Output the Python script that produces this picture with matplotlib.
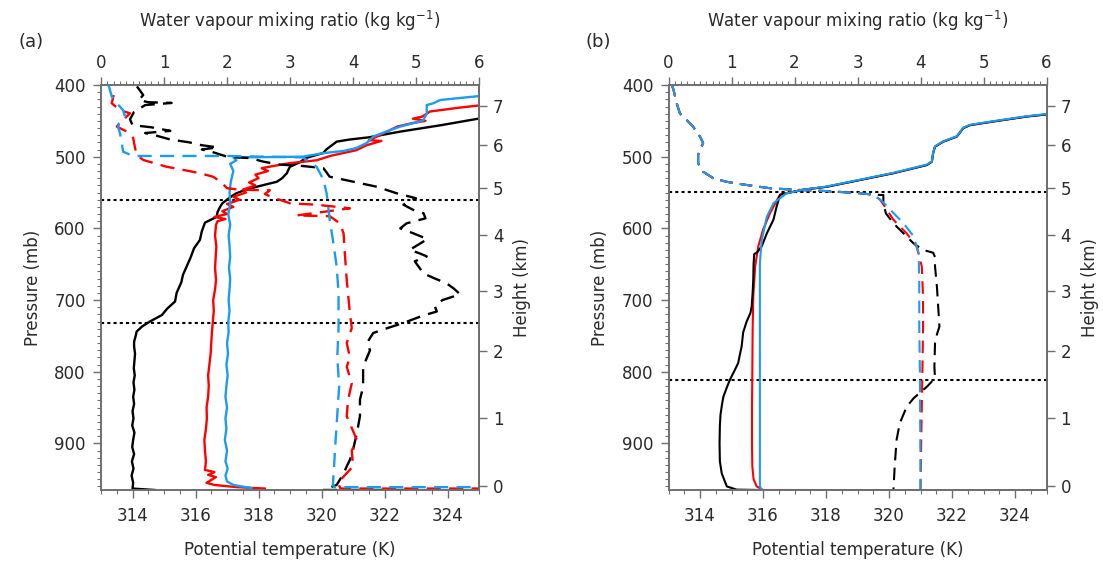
import numpy as np
import matplotlib
matplotlib.use('Agg')
import matplotlib.pyplot as plt
from matplotlib.ticker import MultipleLocator

plt.rcParams['font.family'] = ['DejaVu Sans']
plt.rcParams['mathtext.default'] = 'regular'
plt.rcParams['font.size'] = 12

# height (km) <-> pressure (mb)
Z_TICK = [-1, 0, 1, 2, 3, 4, 5, 6, 7, 9]
P_TICK = [1063, 959, 865, 771, 687, 609, 544, 483, 429, 343]

# boundary layer top markers (mb)
HLINES_A = [560, 732]
HLINES_B = [549, 811]

# ---------------- panel (a): observations ----------------
# potential temperature (K) vs pressure (mb)
P_A_BLACK = [965, 963, 955, 945, 935, 925, 915, 905, 895, 885, 875, 865, 855, 845, 835, 825,
             815, 805, 795, 785, 775, 765, 758, 750, 744, 737, 730, 721, 712, 702, 690, 675,
             665, 653, 640, 628, 616, 604, 592, 584, 577, 570, 565, 560, 555, 551, 546, 542,
             538, 535, 530, 523, 518, 514, 508, 502, 498, 495, 490, 486, 479, 476, 473, 465,
             456, 446]
TH_A_BLACK = [314.7, 314.0, 314.02, 313.97, 314.03, 313.98, 314.05, 313.99, 314.02, 314.06,
              313.99, 314.03, 314.0, 314.05, 314.02, 314.06, 314.03, 314.07, 314.04, 314.06,
              314.08, 314.05, 314.05, 314.1, 314.13, 314.3, 314.55, 314.93, 315.1, 315.35,
              315.4, 315.55, 315.6, 315.72, 315.85, 315.95, 316.14, 316.2, 316.3, 316.67,
              316.7, 316.78, 316.85, 317.0, 317.15, 317.3, 317.6, 317.94, 318.3, 318.58,
              318.75, 318.9, 318.95, 319.0, 319.3, 319.5, 319.8, 320.05, 320.15, 320.27,
              320.48, 320.9, 321.5, 322.5, 323.8, 325.1]

P_A_RED = [963, 961, 958, 955, 947, 944, 940, 937, 925, 910, 895, 880, 865, 850, 835, 820,
           805, 790, 775, 760, 745, 730, 715, 700, 685, 672, 655, 640, 625, 610, 595, 590,
           587, 584, 580, 576, 570, 566, 560, 556, 550, 546, 540, 536, 530, 525, 520, 516,
           512, 509, 505, 499, 491, 484, 478, 477, 470, 458, 453, 450, 447, 444, 440, 437,
           432, 428]
TH_A_RED = [318.2, 317.3, 316.6, 316.35, 316.65, 316.4, 316.6, 316.3, 316.33, 316.3, 316.28,
            316.33, 316.36, 316.35, 316.4, 316.42, 316.4, 316.44, 316.48, 316.5, 316.52,
            316.55, 316.58, 316.56, 316.62, 316.65, 316.62, 316.64, 316.66, 316.62, 316.65,
            316.7, 316.95, 316.6, 317.0, 316.85, 317.2, 317.0, 317.4, 317.2, 317.6, 317.5,
            317.9, 317.7, 318.0, 317.9, 318.3, 318.1, 318.6, 319.0, 319.85, 320.27, 321.1,
            321.43, 321.9, 321.5, 321.86, 322.4, 322.9, 323.3, 322.9, 323.2, 323.34, 323.44,
            324.3, 325.1]

P_A_BLUE = [962.5, 958, 953, 945, 935, 925, 910, 895, 880, 865, 850, 835, 820, 805, 790, 775,
            760, 745, 730, 715, 700, 685, 670, 655, 640, 625, 610, 595, 580, 565, 550, 535,
            520, 510, 505, 501, 500, 495, 492, 488, 481, 472, 463, 458, 451, 449, 440, 428,
            425.5, 421, 418.5, 415]
TH_A_BLUE = [317.78, 317.2, 317.0, 316.95, 317.02, 316.95, 317.0, 316.93, 316.98, 316.95,
             317.0, 316.95, 316.98, 317.02, 316.98, 317.03, 317.0, 317.05, 317.04, 317.08,
             317.05, 317.08, 317.1, 317.06, 317.1, 317.08, 317.05, 317.1, 317.04, 317.1,
             317.08, 317.12, 317.2, 317.1, 317.3, 317.2, 319.4, 320.06, 320.7, 321.1, 321.43,
             321.64, 322.17, 322.5, 323.1, 323.23, 323.34, 323.34, 323.55, 323.76, 324.3,
             325.1]

# water vapour mixing ratio vs pressure (mb)
P_A_QBLACK = [402, 414, 421, 424, 425, 428, 438, 448, 456, 459, 464, 467, 470, 476, 480, 484,
              487, 490, 493, 500, 502, 507, 511, 513, 516, 528, 532, 542, 551, 558, 567, 574,
              579, 586, 593, 600, 607, 615, 630, 635, 639, 646, 663, 670, 677, 684, 692, 700,
              709, 716, 722, 732, 739, 746, 760, 770, 793, 821, 839, 862, 886, 909, 923, 932,
              942, 958, 965, 965]
Q_A_BLACK = [0.57, 0.67, 0.6, 0.75, 1.12, 0.7, 0.52, 0.46, 0.5, 0.8, 1.1, 0.7, 0.85, 1.1, 1.4,
             1.6, 1.85, 1.6, 1.75, 2.0, 2.37, 2.58, 2.84, 3.2, 3.53, 3.63, 3.85, 4.38, 4.69,
             5.0, 4.8, 4.95, 5.12, 5.15, 4.85, 4.75, 4.96, 5.18, 4.9, 5.06, 5.17, 4.98, 5.12,
             5.3, 5.49, 5.6, 5.7, 5.42, 5.3, 5.33, 5.1, 4.8, 4.55, 4.32, 4.22, 4.27, 4.16,
             4.16, 4.11, 4.11, 4.06, 4.0, 3.95, 3.9, 3.85, 3.74, 3.53, 4.9]

P_A_QRED = [414, 425.5, 435, 439.5, 453, 458, 465, 474, 488, 497.6, 504.6, 514, 518.5, 523,
            528, 535, 544, 546, 547, 552, 556, 565, 567, 572, 575, 582, 583, 593, 607, 635,
            672, 718, 739, 760, 780, 793, 816, 840, 862, 895, 910, 932, 955, 963, 963]
Q_A_RED = [0.2, 0.17, 0.3, 0.46, 0.3, 0.25, 0.41, 0.51, 0.54, 0.57, 0.67, 1.04, 1.31, 1.57,
           1.78, 1.9, 2.0, 2.2, 2.68, 2.6, 2.7, 3.0, 3.42, 3.95, 3.7, 3.1, 3.63, 3.79, 3.85,
           3.87, 3.9, 3.95, 3.98, 3.9, 3.95, 3.9, 3.98, 3.92, 3.9, 4.06, 3.98, 4.0, 3.76, 3.8,
           6.1]

P_A_QBLUE = [400, 416, 425.5, 435, 444, 453, 458, 467, 481, 493, 499, 499, 501, 505, 514, 532,
             551, 565, 588, 616, 653, 690, 739, 780, 820, 860, 900, 930, 958, 961, 961]
Q_A_BLUE = [0.12, 0.17, 0.25, 0.35, 0.38, 0.29, 0.27, 0.3, 0.33, 0.35, 0.51, 2.0, 3.2, 3.27,
            3.42, 3.53, 3.58, 3.6, 3.63, 3.68, 3.74, 3.77, 3.77, 3.75, 3.78, 3.75, 3.72, 3.7,
            3.68, 3.7, 6.1]

# ---------------- panel (b): model ----------------
P_B_UPPER = [553, 546, 542, 532.5, 523, 511.6, 507, 495, 486, 479, 472, 460, 456, 451, 444, 441]
TH_B_UPPER = [316.54, 317.28, 318.02, 319.08, 320.14, 321.2, 321.36, 321.4, 321.46, 321.72,
              322.15, 322.36, 322.57, 323.3, 324.37, 325.0]

P_B_BLACK = [965, 964.5, 960, 942, 925, 900, 875, 860, 845, 835, 822, 811, 798, 788, 775, 765,
             745, 730, 718, 709, 690, 672, 650, 636, 633, 625, 607, 588, 570] + P_B_UPPER
TH_B_BLACK = [315.9, 315.16, 314.85, 314.69, 314.63, 314.62, 314.63, 314.65, 314.7, 314.74,
              314.85, 314.95, 315.1, 315.21, 315.27, 315.32, 315.37, 315.48, 315.6, 315.64,
              315.67, 315.69, 315.7, 315.72, 315.82, 315.96, 316.12, 316.33, 316.43] + TH_B_UPPER

P_B_RED = [965.3, 965, 960, 950, 932, 900, 850, 800, 742, 695, 653, 625, 602, 579,
           560] + P_B_UPPER
TH_B_RED = [325.2, 316.0, 315.8, 315.7, 315.66, 315.65, 315.65, 315.66, 315.67, 315.69,
            315.75, 315.85, 316.0, 316.22, 316.45] + TH_B_UPPER

P_B_BLUE = [967, 964, 960, 900, 800, 700, 660, 648, 616, 584, 565, 551, 546, 541.5, 532,
            522.5, 511, 506.5, 494.5, 485.5, 478.5, 471.5, 459.5, 455.5, 450.5, 443.5, 440.5]
TH_B_BLUE = [315.69, 315.95, 315.9, 315.9, 315.9, 315.9, 315.9, 315.9, 315.96, 316.12, 316.33,
             316.75, 317.28, 318.02, 319.08, 320.14, 321.2, 321.36, 321.4, 321.46, 321.72,
             322.15, 322.36, 322.57, 323.3, 324.37, 325.0]

P_B_QUPPER = [399, 407, 425.5, 439.5, 449, 458, 472, 481, 490, 497.6, 509, 521, 530, 535,
              539.5, 544, 546, 548, 551, 553]
Q_B_UPPER = [0.05, 0.08, 0.13, 0.18, 0.29, 0.39, 0.5, 0.55, 0.5, 0.47, 0.47, 0.55, 0.71, 0.92,
             1.24, 1.61, 1.98, 2.51, 3.04, 3.25]

P_B_QBLACK = P_B_QUPPER + [553.5, 565, 579, 593, 607, 621, 630, 634, 640, 653, 681, 709, 737,
                           748, 760, 793, 809, 821, 837, 849, 872, 895, 932, 965]
Q_B_BLACK = Q_B_UPPER + [3.41, 3.41, 3.45, 3.57, 3.73, 3.89, 4.04, 4.2, 4.23, 4.23, 4.26,
                         4.28, 4.3, 4.26, 4.23, 4.22, 4.23, 4.1, 3.89, 3.78, 3.67, 3.62, 3.59,
                         3.57]
P_B_QRED = P_B_QUPPER + [560, 588, 607, 625.5, 653, 695, 737, 800, 850, 900, 965]
Q_B_RED = Q_B_UPPER + [3.36, 3.57, 3.78, 3.94, 4.02, 4.04, 4.04, 4.03, 4.02, 4.01, 4.0]
P_B_QBLUE = P_B_QUPPER + [563, 574, 593, 611, 635, 672, 737, 800, 965]
Q_B_BLUE = Q_B_UPPER + [3.4, 3.52, 3.73, 3.89, 3.97, 3.98, 3.98, 3.99, 4.0]

BLACK = 'black'
RED = '#ff0000'
BLUE = '#1a9cf0'
AXCOL = '#6e6e6e'
TXTCOL = '#2a2a2a'
DASH = (0, (6, 3.5))


def p_to_z(p):
    p = np.clip(np.asarray(p, dtype=float), 1, None)
    return np.interp(-np.log(p), -np.log(P_TICK), Z_TICK)


def z_to_p(z):
    return np.exp(-np.interp(np.asarray(z, dtype=float), Z_TICK, -np.log(P_TICK)))


def setup_panel(fig, rect, label, hlines):
    ax = fig.add_axes(rect)
    ax.set_xlim(313, 325)
    ax.set_ylim(965, 400)
    ax.set_xticks([314, 316, 318, 320, 322, 324])
    ax.xaxis.set_minor_locator(MultipleLocator(0.5))
    ax.yaxis.set_major_locator(MultipleLocator(100))
    ax.yaxis.set_minor_locator(MultipleLocator(10))
    ax.tick_params(which='both', direction='out', color=AXCOL, labelcolor=TXTCOL,
                   top=False, right=False, labelsize=12)
    ax.tick_params(which='major', length=6, width=1)
    ax.tick_params(which='minor', length=3, width=0.8)
    ax.tick_params(axis='x', pad=6.5)
    ax.tick_params(axis='y', pad=5)
    ax.set_xlabel('Potential temperature (K)', color=TXTCOL, labelpad=11)
    ax.set_ylabel('Pressure (mb)', color=TXTCOL, labelpad=9)

    ax2 = ax.twiny()
    ax2.set_xlim(0, 6)
    ax2.xaxis.set_major_locator(MultipleLocator(1))
    ax2.xaxis.set_minor_locator(MultipleLocator(0.1))
    ax2.tick_params(which='both', direction='out', color=AXCOL, labelcolor=TXTCOL,
                    labelsize=12, pad=3.5)
    ax2.tick_params(which='major', length=6, width=1)
    ax2.tick_params(which='minor', length=3, width=0.8)
    ax2.set_xlabel('Water vapour mixing ratio (kg kg$^{-1}$)', color=TXTCOL, labelpad=19)

    sec = ax.secondary_yaxis('right', functions=(p_to_z, z_to_p))
    sec.set_yticks(range(8))
    sec.tick_params(direction='out', length=6, width=1, color=AXCOL, labelcolor=TXTCOL,
                    labelsize=12, pad=4)
    sec.set_ylabel('Height (km)', color=TXTCOL, labelpad=7)

    for a in (ax, ax2, sec):
        for s in a.spines.values():
            s.set_color(AXCOL)
            s.set_linewidth(1.2)

    for p in hlines:
        ax.axhline(p, color='black', lw=1.5, linestyle=(0, (1.5, 1.5)), zorder=1)

    fig.text(rect[0] - 0.075, 0.925, label, fontsize=13, color=TXTCOL, ha='left', va='center')
    return ax, ax2


def main():
    fig = plt.figure(figsize=(11.03, 5.66), dpi=100)

    ax, ax2 = setup_panel(fig, [0.0916, 0.1343, 0.3427, 0.7155], '(a)', HLINES_A)
    ax.plot(TH_A_BLACK, P_A_BLACK, color=BLACK, lw=1.7)
    ax.plot(TH_A_RED, P_A_RED, color=RED, lw=1.7)
    ax.plot(TH_A_BLUE, P_A_BLUE, color=BLUE, lw=1.7)
    ax2.plot(Q_A_BLACK, P_A_QBLACK, color=BLACK, lw=1.7, linestyle=DASH)
    ax2.plot(Q_A_RED, P_A_QRED, color=RED, lw=1.7, linestyle=DASH)
    ax2.plot(Q_A_BLUE, P_A_QBLUE, color=BLUE, lw=1.7, linestyle=DASH)

    bx, bx2 = setup_panel(fig, [0.6061, 0.1343, 0.3427, 0.7155], '(b)', HLINES_B)
    bx.plot(TH_B_BLACK, P_B_BLACK, color=BLACK, lw=1.5)
    bx.plot(TH_B_BLUE, P_B_BLUE, color=BLUE, lw=1.5)
    bx.plot(TH_B_RED, P_B_RED, color=RED, lw=1.5, zorder=1.9)
    bx2.plot(Q_B_BLACK, P_B_QBLACK, color=BLACK, lw=1.5, linestyle=DASH)
    bx2.plot(Q_B_RED, P_B_QRED, color=RED, lw=1.5, linestyle=DASH)
    bx2.plot(Q_B_BLUE, P_B_QBLUE, color=BLUE, lw=1.5, linestyle=DASH)

    plt.savefig('out.png', dpi=100)


if __name__ == '__main__':
    main()
